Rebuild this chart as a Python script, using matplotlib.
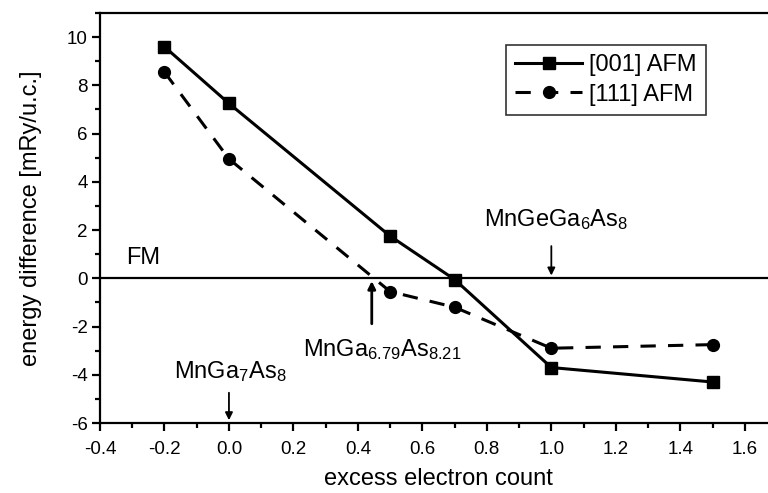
import matplotlib
matplotlib.use("Agg")
import matplotlib.pyplot as plt
from matplotlib.ticker import MultipleLocator

plt.rcParams['font.family'] = ['Liberation Sans', 'DejaVu Sans']
plt.rcParams['mathtext.fontset'] = 'custom'
plt.rcParams['mathtext.rm'] = 'Liberation Sans'
plt.rcParams['mathtext.it'] = 'Liberation Sans:italic'
plt.rcParams['mathtext.bf'] = 'Liberation Sans:bold'
plt.rcParams['mathtext.default'] = 'rm'

x_vals = [-0.2, 0.0, 0.5, 0.7, 1.0, 1.5]
afm001 = [9.6, 7.25, 1.75, -0.05, -3.7, -4.3]
afm111 = [8.55, 4.95, -0.55, -1.2, -2.9, -2.75]
labels = ["[001] AFM", "[111] AFM"]

fig = plt.figure(figsize=(7.68, 4.93), dpi=100)
ax = fig.add_axes([100/768, 70/493, 677/768, 410/493])

ax.plot(x_vals, afm001, '-s', color='black', lw=2.2, ms=8.5, label=labels[0])
ax.plot(x_vals, afm111, '--o', color='black', lw=2.2, ms=8.5, dashes=(5, 4), label=labels[1])
ax.axhline(0, color='black', lw=1.6)

ax.set_xlim(-0.4, 1.7)
ax.set_ylim(-6, 11)
ax.xaxis.set_minor_locator(MultipleLocator(0.1))
ax.yaxis.set_minor_locator(MultipleLocator(1))
ax.set_xticks([-0.4, -0.2, 0.0, 0.2, 0.4, 0.6, 0.8, 1.0, 1.2, 1.4, 1.6])
ax.set_xticklabels(['-0.4', '-0.2', '0.0', '0.2', '0.4', '0.6', '0.8', '1.0', '1.2', '1.4', '1.6'])
ax.set_yticks([-6, -4, -2, 0, 2, 4, 6, 8, 10])
ax.set_yticklabels(['-6', '-4', '-2', '0', '2', '4', '6', '8', '10'])
ax.tick_params(which='major', direction='out', length=6, width=1.6, labelsize=13.5)
ax.tick_params(axis='x', which='major', pad=7)
ax.tick_params(axis='y', which='major', pad=3)
ax.tick_params(which='minor', direction='out', length=3.5, width=1.6)
for s in ax.spines.values():
    s.set_linewidth(1.6)

ax.set_xlabel('excess electron count', fontsize=17, labelpad=7)
ax.set_ylabel('energy difference [mRy/u.c.]', fontsize=17, labelpad=18)

ax.text(-0.32, 0.83, 'FM', fontsize=17, ha='left', va='center')
ax.text(1.014, 2.45, r'MnGeGa$_6$As$_8$', fontsize=17, ha='center', va='center')
ax.annotate('', xy=(1.0, 0.0), xytext=(1.0, 1.45),
            arrowprops=dict(arrowstyle='-|>', color='black', lw=1.3, mutation_scale=11))
ax.text(0.476, -2.97, r'MnGa$_{6.79}$As$_{8.21}$', fontsize=17, ha='center', va='center')
ax.annotate('', xy=(0.443, 0.0), xytext=(0.443, -2.0),
            arrowprops=dict(arrowstyle='-|>', color='black', lw=2.0, mutation_scale=11))
ax.text(0.005, -3.85, r'MnGa$_7$As$_8$', fontsize=17, ha='center', va='center')
ax.annotate('', xy=(0.0, -6.0), xytext=(0.0, -4.63),
            arrowprops=dict(arrowstyle='-|>', color='black', lw=1.3, mutation_scale=11))

leg = ax.legend(loc='upper left', bbox_to_anchor=((506-100)/677, (410-32)/410), fontsize=17,
                frameon=True, fancybox=False, edgecolor='black', borderpad=0.4,
                handlelength=2.8, handletextpad=0.3, labelspacing=0.3, borderaxespad=0)
leg.get_frame().set_linewidth(1.2)

fig.savefig('out.png', dpi=100)
